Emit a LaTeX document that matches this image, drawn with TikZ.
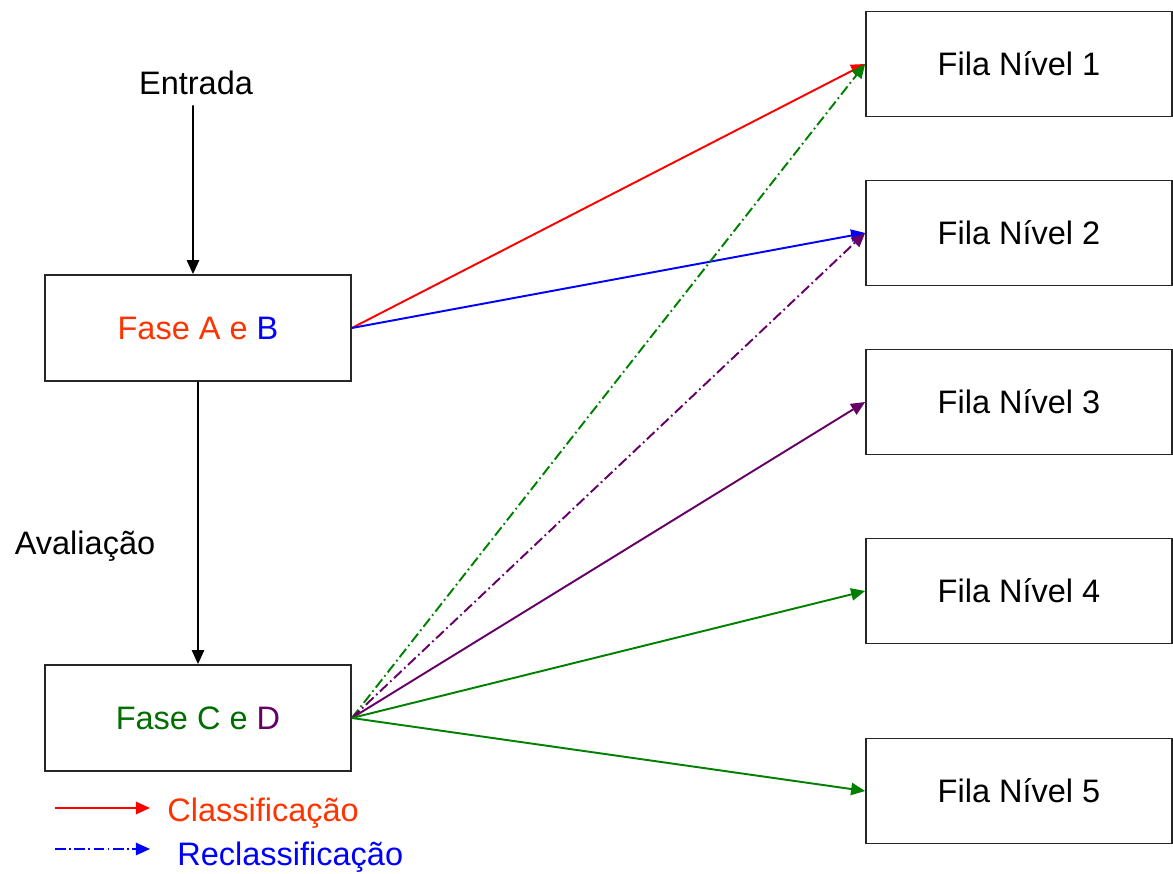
\documentclass[tikz,border=0pt]{standalone}
\usepackage{fontspec}
\setmainfont{Liberation Sans}
\usepackage{tikz}
\usetikzlibrary{arrows.meta, positioning}
\definecolor{classred}{RGB}{255, 0, 0}
\definecolor{textred}{RGB}{255, 51, 0}
\definecolor{reblue}{RGB}{0, 0, 255}
\definecolor{cgreen}{RGB}{0, 128, 0}
\definecolor{tgreen}{RGB}{0, 110, 0}
\definecolor{dpurple}{RGB}{102, 0, 102}
\tikzset{
    phase/.style={rectangle, draw=black!85, line width=1pt, minimum width=6.12cm, minimum height=2.12cm, align=center, font=\fontsize{18.5}{22}\selectfont},
    queue/.style={rectangle, draw=black!85, line width=1pt, minimum width=6.12cm, minimum height=2.1cm, align=center, font=\fontsize{18.5}{22}\selectfont},
    label/.style={inner sep=0pt, font=\fontsize{18.5}{22}\selectfont},
    arrow/.style={line width=1.1pt, -{Triangle[length=8pt, width=7pt]}},
    dasharrow/.style={line width=1.1pt, dash pattern=on 6pt off 2pt on 1pt off 2pt, -{Triangle[length=8pt, width=7pt]}}
}
\begin{document}
\begin{tikzpicture}[x=0.02cm, y=-0.02cm]
    \useasboundingbox (0,0) rectangle (1173,874);

    % Phases
    \node[label] (entrada) at (196, 83) {Entrada};
    \node[phase] (ab) at (198, 328) {\textcolor{textred}{Fase A e} \textcolor{reblue}{B}};
    \node[phase] (cd) at (198, 718) {\textcolor{tgreen}{Fase C e} \textcolor{dpurple}{D}};
    \node[label] (aval) at (85, 546) {Avalia\c{c}\~ao};

    % Queues
    \node[queue] (q1) at (1019, 64) {Fila N\'ivel 1};
    \node[queue] (q2) at (1019, 233) {Fila N\'ivel 2};
    \node[queue] (q3) at (1019, 402) {Fila N\'ivel 3};
    \node[queue] (q4) at (1019, 591) {Fila N\'ivel 4};
    \node[queue] (q5) at (1019, 791) {Fila N\'ivel 5};

    % Legend
    \coordinate (l1s) at (55, 808);
    \coordinate (l1e) at (150, 808);
    \coordinate (l2s) at (55, 849);
    \coordinate (l2e) at (150, 849);
    \node[label, text=textred, anchor=west] (leg1) at (167, 813) {Classifica\c{c}\~ao};
    \node[label, text=reblue, anchor=west] (leg2) at (177, 857) {Reclassifica\c{c}\~ao};

    % Arrows
    \draw[arrow] ([xshift=-0.06cm, yshift=-0.2cm]entrada.south) -- ([xshift=-0.1cm]ab.north);
    \draw[arrow] (ab.south) -- (cd.north);
    \draw[arrow, classred] (ab.east) -- (q1.west);
    \draw[arrow, reblue] (ab.east) -- (q2.west);
    \draw[dasharrow, cgreen] (cd.east) -- (q1.west);
    \draw[dasharrow, dpurple] (cd.east) -- (q2.west);
    \draw[arrow, dpurple] (cd.east) -- (q3.west);
    \draw[arrow, cgreen] (cd.east) -- (q4.west);
    \draw[arrow, cgreen] (cd.east) -- (q5.west);
    \draw[arrow, classred] (l1s) -- (l1e);
    \draw[dasharrow, reblue] (l2s) -- (l2e);
\end{tikzpicture}
\end{document}
